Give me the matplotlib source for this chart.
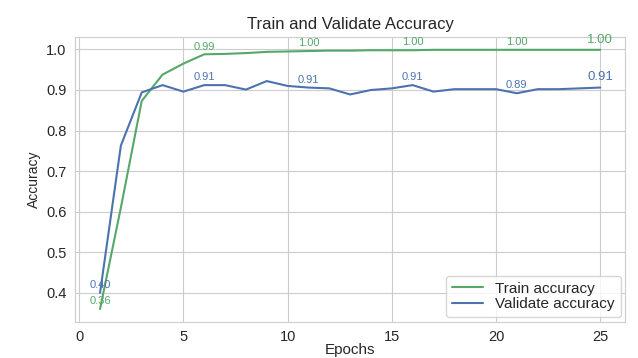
#!/usr/bin/env python3

import matplotlib.pyplot as plt
import seaborn as sns

epochs = list(range(1, 26))

train_acc = [0.36, 0.61, 0.873, 0.938, 0.965, 0.988, 0.989, 0.991, 0.994, 0.995,
             0.996, 0.997, 0.997, 0.998, 0.998, 0.998, 0.999, 0.999, 0.999, 0.999,
             0.999, 0.999, 0.999, 0.999, 0.999]

val_acc = [0.40, 0.763, 0.894, 0.912, 0.896, 0.912, 0.912, 0.901, 0.922, 0.910,
           0.906, 0.904, 0.889, 0.900, 0.904, 0.912, 0.896, 0.902, 0.902, 0.902,
           0.892, 0.902, 0.902, 0.904, 0.906]

# annotate every 5th epoch starting at 1, plus the last one
label_epochs = [1, 6, 11, 16, 21]

sns.set_style("whitegrid")
plt.rcParams['font.family'] = ['Liberation Sans', 'DejaVu Sans']

green = "#55a868"
blue = "#4c72b0"

fig, ax = plt.subplots(figsize=(6.38, 3.58), dpi=100,
                       gridspec_kw={'left': 0.1176, 'right': 0.98, 'top': 0.897, 'bottom': 0.1006})

ax.plot(epochs, train_acc, color=green, lw=1.5, label="Train accuracy")
ax.plot(epochs, val_acc, color=blue, lw=1.5, label="Validate accuracy")

for e in label_epochs:
  i = epochs.index(e)
  ax.annotate("{:.2f}".format(train_acc[i]), (e, train_acc[i]), xytext=(0, 2),
              textcoords="offset points", ha="center", va="bottom", fontsize=8, color=green)
  ax.annotate("{:.2f}".format(val_acc[i]), (e, val_acc[i]), xytext=(0, 2),
              textcoords="offset points", ha="center", va="bottom", fontsize=8, color=blue)

ax.annotate("{:.2f}".format(train_acc[-1]), (epochs[-1], train_acc[-1]), xytext=(0, 3),
            textcoords="offset points", ha="center", va="bottom", fontsize=9.5, color=green)
ax.annotate("{:.2f}".format(val_acc[-1]), (epochs[-1], val_acc[-1]), xytext=(0, 3),
            textcoords="offset points", ha="center", va="bottom", fontsize=9.5, color=blue)

ax.set_xticks([0, 5, 10, 15, 20, 25])
ax.set_title("Train and Validate Accuracy", fontsize=12, pad=6)
ax.set_xlabel("Epochs", fontsize=11, labelpad=-1)
ax.set_ylabel("Accuracy", fontsize=10)
ax.tick_params(labelsize=10.5, pad=2.5)
ax.legend(loc="lower right", fontsize=11, borderaxespad=0.3, labelspacing=0.1)

fig.savefig("out.png")
